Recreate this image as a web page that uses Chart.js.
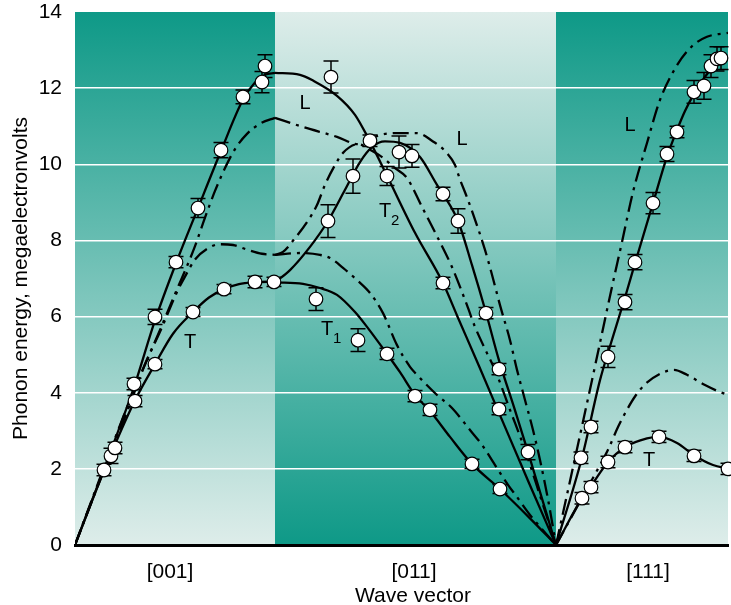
<!DOCTYPE html>
<html>
<head>
<meta charset="utf-8">
<title>Phonon dispersion</title>
<script src="https://cdn.jsdelivr.net/npm/chart.js"></script>
<style>
    html, body { margin: 0; padding: 0; background: #fff; }
    #wrap { width: 731px; height: 605px; }
</style>
</head>
<body>
<div id="wrap"><canvas id="chart" width="731" height="605"></canvas></div>
<script>
// Wave vector axis: [001] runs 0..1, [011] 1..2.405, [111] 2.405..3.265
const segEdges = [0, 1, 2.405, 3.265];
const segLabels = ['[001]', '[011]', '[111]'];
const segLabelPos = [0.475, 1.695, 2.865];
const yTicks = [0, 2, 4, 6, 8, 10, 12, 14];

// Solid curves (theory 1), [x, meV]
const solidL001 = [[0,0],[0.145,2.0],[0.295,4.15],[0.4,5.9],[0.505,7.4],[0.615,8.85],[0.73,10.35],[0.84,11.7],[0.9,12.15],[0.95,12.35],[1.0,12.4]];
const solidT001 = [[0,0],[0.145,1.95],[0.3,3.8],[0.4,4.75],[0.49,5.55],[0.59,6.12],[0.67,6.5],[0.745,6.72],[0.82,6.85],[0.9,6.9],[1.0,6.92]];
const solidL011 = [[1.0,12.4],[1.125,12.35],[1.19,12.2],[1.31,11.8],[1.4,11.3],[1.465,10.7],[1.56,9.7],[1.7,8.2],[1.84,6.88],[1.91,6.03],[2.02,4.7],[2.12,3.47],[2.27,1.63],[2.405,0]];
const solidT2011 = [[1.0,6.9],[1.075,7.22],[1.175,7.83],[1.265,8.51],[1.35,9.33],[1.425,10.06],[1.485,10.45],[1.55,10.6],[1.625,10.56],[1.725,10.19],[1.81,9.46],[1.84,9.22],[1.915,8.51],[1.985,7.35],[2.055,6.1],[2.12,4.85],[2.195,3.62],[2.265,2.44],[2.335,1.22],[2.405,0]];
const solidT1011 = [[1.0,6.9],[1.14,6.86],[1.225,6.75],[1.31,6.57],[1.4,6.12],[1.46,5.73],[1.56,5.02],[1.625,4.54],[1.7,3.94],[1.775,3.52],[1.875,2.84],[1.985,2.13],[2.125,1.47],[2.275,0.7],[2.405,0]];
const solidL111 = [[2.405,0],[2.535,2.3],[2.625,4.33],[2.665,5.05],[2.75,6.5],[2.8,7.4],[2.89,8.98],[2.96,10.2],[3.01,10.9],[3.05,11.4],[3.095,11.85],[3.15,12.3],[3.19,12.55],[3.23,12.72],[3.265,12.8]];
const solidT111 = [[2.405,0],[2.535,1.23],[2.58,1.55],[2.665,2.18],[2.75,2.57],[2.86,2.8],[2.92,2.84],[3.01,2.68],[3.095,2.36],[3.19,2.1],[3.265,2.0]];

// Dash-dot curves (theory 2)
const dashL001 = [[0,0],[0.125,1.76],[0.275,3.81],[0.425,5.65],[0.515,6.78],[0.55,7.2],[0.6,7.85],[0.65,8.6],[0.7,9.3],[0.75,9.9],[0.8,10.4],[0.86,10.8],[0.93,11.08],[1.0,11.22]];
const dashT001 = [[0,0],[0.125,1.7],[0.275,3.7],[0.35,4.75],[0.425,5.6],[0.515,6.7],[0.55,7.05],[0.6,7.5],[0.66,7.78],[0.725,7.9],[0.79,7.88],[0.86,7.76],[0.935,7.65],[1.0,7.62]];
const dashL011 = [[1.0,11.22],[1.14,10.98],[1.31,10.72],[1.415,10.53],[1.525,10.77],[1.625,10.82],[1.71,10.82],[1.79,10.6],[1.85,10.35],[1.9,9.98],[1.925,9.6],[1.955,9.2],[1.99,8.7],[2.05,7.75],[2.085,7.1],[2.125,6.3],[2.175,5.38],[2.21,4.6],[2.25,3.81],[2.29,3.02],[2.325,2.23],[2.365,1.2],[2.405,0]];
const dashT2011 = [[1.0,7.62],[1.04,7.7],[1.1,8.06],[1.16,8.48],[1.21,8.93],[1.25,9.46],[1.3,9.98],[1.34,10.3],[1.415,10.53],[1.475,10.38],[1.54,10.17],[1.6,9.9],[1.66,9.64],[1.735,8.88],[1.815,8.06],[1.885,7.3],[1.96,6.3],[2.0,5.73],[2.06,5.04],[2.1,4.6],[2.175,3.55],[2.25,2.5],[2.325,1.3],[2.405,0]];
const dashT1011 = [[1.0,7.62],[1.125,7.67],[1.225,7.62],[1.275,7.54],[1.34,7.28],[1.41,6.96],[1.475,6.62],[1.54,6.09],[1.61,5.25],[1.675,4.68],[1.71,4.47],[1.81,3.94],[1.885,3.6],[1.975,3.02],[2.035,2.63],[2.11,2.02],[2.165,1.58],[2.21,1.26],[2.275,0.79],[2.405,0]];
const dashL111 = [[2.405,0],[2.585,4.33],[2.685,6.78],[2.735,7.96],[2.79,9.27],[2.86,10.56],[2.925,11.69],[3.01,12.6],[3.085,13.1],[3.16,13.35],[3.265,13.45]];
const dashT111 = [[2.405,0],[2.51,1.0],[2.625,2.1],[2.665,2.5],[2.715,3.1],[2.765,3.6],[2.8,3.9],[2.85,4.22],[2.935,4.52],[2.995,4.6],[3.06,4.47],[3.15,4.2],[3.21,4.05],[3.265,3.94]];

// Measured points with error bars
const pointX = [0.145,0.18,0.2,0.3,0.295,0.4,0.4,0.505,0.615,0.59,0.745,0.9,0.995,0.73,0.84,0.935,0.95,
    1.28,1.475,1.39,1.56,1.62,1.685,1.84,1.265,1.205,1.415,1.56,1.84,1.915,2.055,2.12,1.7,1.775,1.985,2.125,2.12,2.265,
    2.535,2.58,2.665,2.75,2.92,3.095,3.265,2.53,2.58,2.665,2.75,2.8,2.89,2.96,3.01,3.095,3.145,3.18,3.21,3.23];
const pointY = [1.97,2.34,2.55,3.78,4.23,4.75,5.99,7.43,8.85,6.12,6.72,6.91,6.91,10.37,11.77,12.16,12.58,
    12.29,10.62,9.69,9.69,10.32,10.22,9.22,8.51,6.46,5.38,5.02,6.88,8.51,6.09,4.62,3.91,3.55,2.13,1.47,3.57,2.44,
    1.23,1.52,2.18,2.57,2.84,2.34,2.0,2.29,3.1,4.94,6.38,7.43,8.98,10.27,10.85,11.9,12.06,12.58,12.77,12.79];
const pointErr = [0.15,0.2,0.15,0.15,0.15,0.12,0.2,0.15,0.25,0.12,0.12,0.15,0.12,0.2,0.18,0.28,0.3,
    0.42,0.15,0.45,0.25,0.42,0.3,0.18,0.43,0.3,0.3,0.15,0.15,0.32,0.15,0.15,0.15,0.15,0.12,0.12,0.15,0.2,
    0.15,0.15,0.15,0.15,0.15,0.15,0.15,0.15,0.15,0.28,0.2,0.2,0.28,0.2,0.15,0.3,0.35,0.3,0.32,0.3];

// Branch labels
const labelText = ['L', 'L', 'T', 'T', 'T', 'L', 'T'];
const labelSub = ['', '', '', '2', '1', '', ''];
const labelX = [1.15, 1.935, 0.575, 1.55, 1.26, 2.775, 2.87];
const labelY = [11.6, 10.64, 5.33, 8.75, 5.65, 11.03, 2.23];

const teal = 'rgb(14,153,135)';
const pale = 'rgb(222,237,234)';
const fontFamily = '"Liberation Sans", Arial, Helvetica, sans-serif';
const dashDot = [16, 6, 3, 6];

function toXY(arr) { return arr.map(p => ({ x: p[0], y: p[1] })); }

function curve(data, dashed) {
    return {
        data: toXY(data),
        showLine: true,
        borderColor: '#000',
        borderWidth: 2.3,
        borderDash: dashed ? dashDot : [],
        pointRadius: 0,
        cubicInterpolationMode: 'monotone',
        order: 2
    };
}

const points = {
    data: pointX.map((x, i) => ({ x: x, y: pointY[i] })),
    pointRadius: 6.8,
    pointBackgroundColor: '#fff',
    pointBorderColor: '#000',
    pointBorderWidth: 1.2,
    showLine: false,
    clip: false,
    order: 0
};

// gradient backgrounds for the three segments
const segBackground = {
    id: 'segBackground',
    beforeDraw(chart) {
        const { ctx, chartArea: a, scales: { x } } = chart;
        ctx.save();
        for (let i = 0; i < 3; i++) {
            const x0 = x.getPixelForValue(segEdges[i]);
            const x1 = x.getPixelForValue(segEdges[i + 1]);
            const g = ctx.createLinearGradient(0, a.top, 0, a.bottom);
            g.addColorStop(0, i === 1 ? pale : teal);
            g.addColorStop(1, i === 1 ? teal : pale);
            ctx.fillStyle = g;
            ctx.fillRect(x0, a.top, x1 - x0, a.bottom - a.top);
        }
        ctx.restore();
    }
};

// error bars go under the point circles
const errorBars = {
    id: 'errorBars',
    beforeDatasetDraw(chart, args) {
        if (args.index !== 0) return;
        const { ctx, scales: { x, y } } = chart;
        ctx.save();
        ctx.strokeStyle = '#000';
        ctx.lineWidth = 1.5;
        pointX.forEach((v, i) => {
            const px = x.getPixelForValue(v);
            const top = y.getPixelForValue(pointY[i] + pointErr[i]);
            const bot = y.getPixelForValue(pointY[i] - pointErr[i]);
            ctx.beginPath();
            ctx.moveTo(px, top); ctx.lineTo(px, bot);
            ctx.moveTo(px - 7.5, top); ctx.lineTo(px + 7.5, top);
            ctx.moveTo(px - 7.5, bot); ctx.lineTo(px + 7.5, bot);
            ctx.stroke();
        });
        ctx.restore();
    }
};

// branch labels and the x axis title
const textLabels = {
    id: 'textLabels',
    afterDraw(chart) {
        const { ctx, chartArea: a, scales: { x, y } } = chart;
        ctx.save();
        ctx.fillStyle = '#000';
        ctx.textBaseline = 'middle';
        labelText.forEach((t, i) => {
            const px = x.getPixelForValue(labelX[i]);
            const py = y.getPixelForValue(labelY[i]);
            ctx.font = '20px ' + fontFamily;
            ctx.textAlign = 'center';
            ctx.fillText(t, px, py);
            if (labelSub[i]) {
                const w = ctx.measureText(t).width;
                ctx.font = '15px ' + fontFamily;
                ctx.textAlign = 'left';
                ctx.fillText(labelSub[i], px + w / 2, py + 9);
            }
        });
        ctx.font = '21px ' + fontFamily;
        ctx.textAlign = 'center';
        ctx.fillText('Wave vector', x.getPixelForValue(1.69), a.bottom + 51);
        ctx.restore();
    }
};

new Chart(document.getElementById('chart'), {
    type: 'scatter',
    data: {
        datasets: [
            points,
            curve(solidL001), curve(solidT001), curve(solidL011), curve(solidT2011),
            curve(solidT1011), curve(solidL111), curve(solidT111),
            curve(dashL001, true), curve(dashT001, true), curve(dashL011, true),
            curve(dashT2011, true), curve(dashT1011, true), curve(dashL111, true), curve(dashT111, true)
        ]
    },
    options: {
        responsive: false,
        animation: false,
        devicePixelRatio: 1,
        layout: { autoPadding: false, padding: { top: 0, right: 3, left: 0, bottom: 0 } },
        plugins: { legend: { display: false }, tooltip: { enabled: false } },
        scales: {
            x: {
                type: 'linear',
                min: segEdges[0],
                max: segEdges[3],
                grid: { display: false, drawTicks: false },
                border: { display: true, color: '#000', width: 3 },
                afterBuildTicks: s => { s.ticks = segLabelPos.map(v => ({ value: v })); },
                afterFit: s => { s.height = 60; s.paddingLeft = 0; s.paddingRight = 0; },
                ticks: {
                    autoSkip: false,
                    maxRotation: 0,
                    padding: 15,
                    color: '#000',
                    font: { family: fontFamily, size: 21 },
                    callback: (v, i) => segLabels[i]
                }
            },
            y: {
                min: 0,
                max: 14,
                afterBuildTicks: s => { s.ticks = yTicks.map(v => ({ value: v })); },
                afterFit: s => { s.width = 75; s.paddingTop = 12; s.paddingBottom = 0; },
                grid: {
                    drawTicks: false,
                    lineWidth: 1.5,
                    color: c => (c.tick && (c.tick.value === 0 || c.tick.value === 14)) ? 'rgba(0,0,0,0)' : '#fff'
                },
                border: { display: false },
                ticks: {
                    padding: 13,
                    color: '#000',
                    font: { family: fontFamily, size: 21 }
                },
                title: {
                    display: true,
                    text: 'Phonon energy, megaelectronvolts',
                    color: '#000',
                    font: { family: fontFamily, size: 21 },
                    padding: { top: 9, bottom: 0 }
                }
            }
        }
    },
    plugins: [segBackground, errorBars, textLabels]
});
</script>
</body>
</html>
